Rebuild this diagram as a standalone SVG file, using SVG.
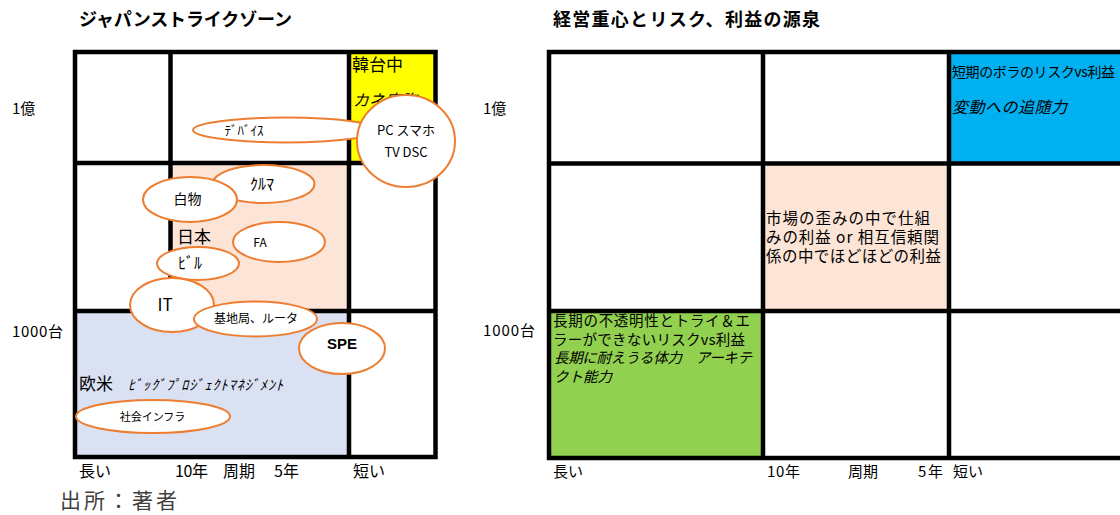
<svg xmlns="http://www.w3.org/2000/svg" width="1120" height="515" viewBox="0 0 1120 515">
<style>
text{font-family:"Noto Sans CJK JP","Liberation Sans",sans-serif;fill:#000}
.title{font-size:18px;font-weight:bold}
.ax{font-size:15px;fill:#222}
.cell{font-size:15.5px}
.it{font-style:italic}
.bub{fill:#fff;stroke:#ED7D31;stroke-width:2}
.lbl{font-size:12px;text-anchor:middle}
.grid{fill:none;stroke:#000;stroke-width:4.5}
</style>
<rect width="1120" height="515" fill="#fff"/>

<!-- Left chart -->
<text class="title" x="79" y="26" textLength="213">ジャパンストライクゾーン</text>
<g id="left-fills">
<rect x="349" y="52" width="86" height="111" fill="#FFFF00"/>
<rect x="170" y="163" width="179" height="148" fill="#FCE4D6"/>
<rect x="75" y="311" width="274" height="146" fill="#D9E1F2"/>
</g>
<g id="left-grid">
<rect class="grid" x="75" y="52" width="360.5" height="405"/>
<path class="grid" d="M170.5 52V311M349 52V457M75 163H435.5M75 311H435.5"/>
</g>
<text x="12" y="114" style="font-size:15px">1億</text>
<text x="12" y="336.5" style="font-size:15px" textLength="51">1000台</text>
<g id="left-axis" class="ax" style="font-size:16px">
<text x="79" y="477">長い</text>
<text x="175" y="477" textLength="33">10年</text>
<text x="223" y="477">周期</text>
<text x="274" y="477">5年</text>
<text x="353" y="477">短い</text>
</g>
<text x="60" y="508" style="font-size:21px;fill:#404040" textLength="117">出所：著者</text>

<text x="352" y="71" style="font-size:17px">韓台中</text>
<text class="it" x="353" y="106" style="font-size:16px">カネ度胸</text>
<text x="177" y="243" style="font-size:17px">日本</text>
<text x="79" y="390" style="font-size:17px">欧米</text>
<text class="it" x="128" y="390" style="font-size:14px" textLength="155">ﾋﾞｯｸﾞﾌﾟﾛｼﾞｪｸﾄﾏﾈｼﾞﾒﾝﾄ</text>

<g id="n-device"><ellipse class="bub" cx="286" cy="130" rx="93" ry="12.5"/><text class="lbl" x="244" y="135" style="font-size:13px">ﾃﾞﾊﾞｲｽ</text></g>
<g id="n-pc"><ellipse class="bub" cx="406" cy="141" rx="49" ry="46"/><text class="lbl" x="406" y="135" style="font-size:13px">PC スマホ</text><text class="lbl" x="406" y="157" style="font-size:13px">TV DSC</text></g>
<g id="n-kuruma"><ellipse class="bub" cx="263.5" cy="184" rx="51" ry="19"/><text class="lbl" x="262" y="190" style="font-size:16px">ｸﾙﾏ</text></g>
<g id="n-shiro"><ellipse class="bub" cx="190" cy="199.5" rx="47" ry="22.5"/><text class="lbl" x="187.5" y="204" style="font-size:14px">白物</text></g>
<g id="n-fa"><ellipse class="bub" cx="279" cy="242" rx="46" ry="20"/><text class="lbl" x="260" y="247">FA</text></g>
<g id="n-biru"><ellipse class="bub" cx="198" cy="263.5" rx="41" ry="16.5"/><text class="lbl" x="190" y="269" style="font-size:16px">ﾋﾞﾙ</text></g>
<g id="n-it"><ellipse class="bub" cx="172" cy="305" rx="42" ry="27"/><text class="lbl" x="165" y="311" style="font-size:17px">IT</text></g>
<g id="n-kichi"><ellipse class="bub" cx="255.5" cy="319" rx="61.5" ry="17.5"/><text class="lbl" x="256" y="323">基地局、ルータ</text></g>
<g id="n-spe"><ellipse class="bub" cx="342" cy="348.5" rx="43" ry="25.5"/><text class="lbl" x="342" y="349" style="font-size:15px;font-weight:bold;font-family:'Liberation Sans',sans-serif">SPE</text></g>
<g id="n-infra"><ellipse class="bub" cx="153" cy="416.5" rx="77" ry="16.5"/><text class="lbl" x="152.5" y="421" style="font-size:11px">社会インフラ</text></g>
<g id="connectors"></g>

<!-- Right chart -->
<text class="title" x="553" y="26" textLength="267">経営重心とリスク、利益の源泉</text>
<g id="right-fills">
<rect x="949" y="52" width="180" height="111.5" fill="#00B0F0"/>
<rect x="763" y="163.5" width="186" height="147.5" fill="#FCE4D6"/>
<rect x="549" y="311" width="214" height="147" fill="#92D050"/>
</g>
<g id="right-grid">
<rect class="grid" x="549" y="52" width="600" height="406"/>
<path class="grid" d="M763 52V458M949 52V458M549 163.5H1120M549 311H1120"/>
</g>
<text x="483" y="114" style="font-size:15px">1億</text>
<text x="483" y="336" style="font-size:15px" textLength="52">1000台</text>
<g id="right-axis" class="ax">
<text x="553" y="477">長い</text>
<text x="767" y="477" textLength="33">10年</text>
<text x="848" y="477">周期</text>
<text x="918" y="477" textLength="25">5年</text>
<text x="953" y="477">短い</text>
</g>
<g id="blue-cell">
<text x="952" y="77" style="font-size:14px" textLength="163">短期のボラのリスクvs利益</text>
<text class="it" x="952" y="113" style="font-size:16px" textLength="115">変動への追随力</text>
</g>
<g id="peach-cell" class="cell">
<text x="766" y="224" textLength="164">市場の歪みの中で仕組</text>
<text x="766" y="243" textLength="173">みの利益 or 相互信頼関</text>
<text x="766" y="262" textLength="175">係の中でほどほどの利益</text>
</g>
<g id="green-cell" style="font-size:14.5px">
<text x="553" y="326" textLength="197">長期の不透明性とトライ＆エ</text>
<text x="553" y="344.5" textLength="192">ラーができないリスクvs利益</text>
<text class="it" x="554" y="363" textLength="198">長期に耐えうる体力　アーキテ</text>
<text class="it" x="554" y="381.5">クト能力</text>
</g>
</svg>
